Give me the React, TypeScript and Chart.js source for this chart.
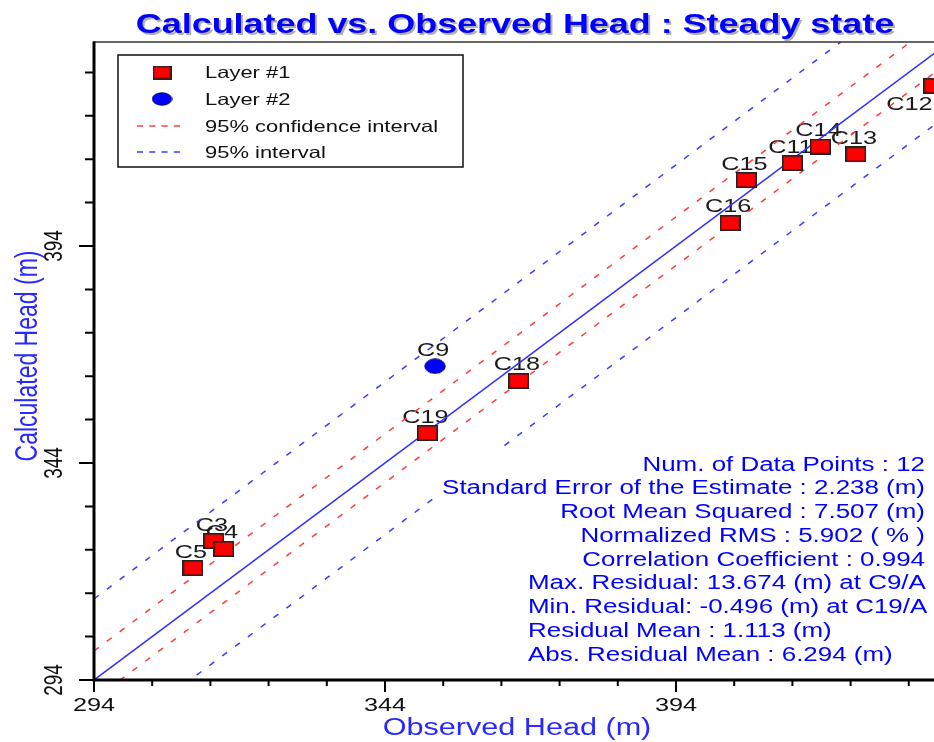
import { useEffect, useRef } from 'react';
import { Chart, registerables } from 'chart.js';

Chart.register(...registerables);

// ---------- data ----------
const layer1Names = ['C3', 'C4', 'C5', 'C19', 'C18', 'C16', 'C15', 'C11', 'C14', 'C13', 'C12'];
const layer1Observed = [314.6, 316.3, 311.0, 351.3, 367.0, 403.3, 406.1, 414.0, 418.8, 424.9, 438.3];
const layer1Calculated = [326.0, 324.2, 319.8, 350.9, 362.9, 399.3, 409.2, 413.1, 416.9, 415.1, 430.9];

const layer2Names = ['C9'];
const layer2Observed = [352.6];
const layer2Calculated = [366.3];

// reference lines (end points, observed / calculated)
const lineX = [294, 444];
const oneToOneY = [294, 444];
const confUpperY = [300.7, 450.7];
const confLowerY = [289.5, 439.5];
const predUpperY = [312.7, 462.7];
const predLowerY = [277.5, 427.5];

const xTicks = [294, 304, 314, 324, 334, 344, 354, 364, 374, 384, 394, 404, 414, 424, 434, 444];
const yTicks = [294, 304, 314, 324, 334, 344, 354, 364, 374, 384, 394, 404, 414, 424, 434];
const majorTicks = [294, 344, 394, 444];

const legendLabels = ['Layer #1', 'Layer #2', '95% confidence interval', '95% interval'];

const statsRight = [
  'Num. of Data Points : 12',
  'Standard Error of the Estimate : 2.238 (m)',
  'Root Mean Squared : 7.507 (m)',
  'Normalized RMS : 5.902 ( % )',
  'Correlation Coefficient : 0.994',
];
const statsLeft = [
  'Max. Residual: 13.674 (m) at C9/A',
  'Min. Residual: -0.496 (m) at C19/A',
  'Residual Mean : 1.113 (m)',
  'Abs. Residual Mean : 6.294 (m)',
];

const titleText = 'Calculated vs. Observed Head : Steady state';
const xTitle = 'Observed Head (m)';
const yTitle = 'Calculated Head (m)';

// ---------- styles ----------
const FAMILY = "'Liberation Sans', Arial, sans-serif";
const SX = 1.33;
const W = 976;
const H = 742;

function txt(
  ctx: CanvasRenderingContext2D,
  s: string,
  x: number,
  y: number,
  font: string,
  color: string,
  align: CanvasTextAlign = 'left',
  rot = 0,
  sx = SX
) {
  ctx.save();
  ctx.translate(x, y);
  ctx.scale(sx, 1);
  if (rot) ctx.rotate(rot);
  ctx.font = font;
  ctx.fillStyle = color;
  ctx.textAlign = align;
  ctx.textBaseline = 'alphabetic';
  ctx.fillText(s, 0, 0);
  ctx.restore();
}

function makeRect(w: number, h: number) {
  const c = document.createElement('canvas');
  c.width = w;
  c.height = h;
  const g = c.getContext('2d')!;
  g.fillStyle = '#ff0000';
  g.fillRect(0, 0, w, h);
  g.strokeStyle = '#222';
  g.lineWidth = 1.6;
  g.strokeRect(0.8, 0.8, w - 1.6, h - 1.6);
  return c;
}

function makeEllipse(w: number, h: number) {
  const c = document.createElement('canvas');
  c.width = w;
  c.height = h;
  const g = c.getContext('2d')!;
  g.beginPath();
  g.ellipse(w / 2, h / 2, w / 2 - 0.8, h / 2 - 0.8, 0, 0, Math.PI * 2);
  g.fillStyle = '#0000ff';
  g.fill();
  g.strokeStyle = '#000060';
  g.lineWidth = 1;
  g.stroke();
  return c;
}

export default function App() {
  const ref = useRef<HTMLCanvasElement>(null);

  useEffect(() => {
    document.documentElement.style.overflow = 'hidden';
    document.body.style.overflow = 'hidden';
    const canvas = ref.current;
    if (!canvas) return;

    const rectMark = makeRect(21, 16);
    const circMark = makeEllipse(22, 16);

    const line = (ys: number[]) => lineX.map((x, i) => ({ x, y: ys[i] }));

    const overlay = {
      id: 'overlay',
      beforeDraw(chart: any) {
        const ctx = chart.ctx as CanvasRenderingContext2D;
        ctx.save();
        ctx.fillStyle = '#ffffff';
        ctx.fillRect(0, 0, chart.width, chart.height);
        ctx.restore();
      },
      beforeDatasetsDraw(chart: any) {
        const ctx = chart.ctx as CanvasRenderingContext2D;
        const lab = (meta: any, names: string[]) => {
          meta.data.forEach((el: any, i: number) => {
            const name = names[i];
            if (name === 'C12') {
              txt(ctx, name, el.x - 24.5, el.y + 24, `19px ${FAMILY}`, '#1a1a1a', 'center');
            } else {
              txt(ctx, name, el.x - 2, el.y - 10.5, `19px ${FAMILY}`, '#1a1a1a', 'center');
            }
          });
        };
        lab(chart.getDatasetMeta(0), layer1Names);
        lab(chart.getDatasetMeta(1), layer2Names);
      },
      afterDatasetsDraw(chart: any) {
        const ctx = chart.ctx as CanvasRenderingContext2D;
        const xs = chart.scales.x;
        const ys = chart.scales.y;
        const area = chart.chartArea;

        // stats box
        ctx.save();
        ctx.fillStyle = '#ffffff';
        ctx.fillRect(433, 446, W - 433, 222);
        ctx.restore();
        const statBase = [470.7, 494.3, 518.3, 542.3, 566, 589.3, 613.3, 637.3, 660.7];
        statsRight.forEach((s, i) =>
          txt(ctx, s, 925, statBase[i], `19.5px ${FAMILY}`, '#0000ff', 'right')
        );
        statsLeft.forEach((s, i) =>
          txt(ctx, s, 528, statBase[i + statsRight.length], `19.5px ${FAMILY}`, '#0000ff', 'left')
        );

        // frame / axes
        ctx.save();
        ctx.strokeStyle = '#333';
        ctx.lineWidth = 1.5;
        ctx.beginPath();
        ctx.moveTo(area.left - 1, area.top);
        ctx.lineTo(W, area.top);
        ctx.stroke();

        ctx.strokeStyle = '#000';
        ctx.lineWidth = 3;
        ctx.beginPath();
        ctx.moveTo(area.left, area.top - 0.5);
        ctx.lineTo(area.left, area.bottom + 1.5);
        ctx.moveTo(area.left - 1.5, area.bottom);
        ctx.lineTo(W, area.bottom);
        ctx.stroke();

        // ticks
        ctx.lineWidth = 2;
        ctx.beginPath();
        xTicks.forEach((v) => {
          const px = xs.getPixelForValue(v);
          const len = majorTicks.includes(v) ? 12 : 6;
          ctx.moveTo(px, area.bottom);
          ctx.lineTo(px, area.bottom + len);
        });
        yTicks.forEach((v) => {
          const py = ys.getPixelForValue(v);
          const len = majorTicks.includes(v) ? 15 : 9;
          ctx.moveTo(area.left, py);
          ctx.lineTo(area.left - len, py);
        });
        ctx.stroke();
        ctx.restore();

        // tick labels
        majorTicks.forEach((v) => {
          const px = xs.getPixelForValue(v);
          if (px < W) txt(ctx, String(v), px, 710.7, `19px ${FAMILY}`, '#111', 'center');
          if (v <= ys.max) {
            const py = ys.getPixelForValue(v);
            txt(ctx, String(v), 61.7, py, `19px ${FAMILY}`, '#111', 'center', -Math.PI / 2);
          }
        });

        // axis titles
        txt(ctx, xTitle, 517, 735, `23px ${FAMILY}`, '#2828ff', 'center');
        txt(ctx, yTitle, 37, 356, `23px ${FAMILY}`, '#2828ff', 'center', -Math.PI / 2);

        // main title
        txt(ctx, titleText, 517, 35, `bold 27px ${FAMILY}`, '#b4b0a8', 'center');
        txt(ctx, titleText, 515, 33, `bold 27px ${FAMILY}`, '#0000ff', 'center');

        // legend
        ctx.save();
        ctx.fillStyle = '#ffffff';
        ctx.fillRect(118, 55, 345, 112);
        ctx.strokeStyle = '#111';
        ctx.lineWidth = 1.5;
        ctx.strokeRect(118, 55, 345, 112);
        ctx.restore();
        const lRect = makeRect(19, 14);
        const lCirc = makeEllipse(21, 14);
        ctx.drawImage(lRect, 162 - 9.5, 72.5 - 7);
        ctx.drawImage(lCirc, 162 - 10.5, 99 - 7);
        ctx.save();
        ctx.lineWidth = 1.5;
        ctx.setLineDash([6, 6.3]);
        ctx.strokeStyle = '#ff3c3c';
        ctx.beginPath();
        ctx.moveTo(137, 126);
        ctx.lineTo(182, 126);
        ctx.stroke();
        ctx.strokeStyle = '#3c3cff';
        ctx.beginPath();
        ctx.moveTo(137, 152);
        ctx.lineTo(182, 152);
        ctx.stroke();
        ctx.restore();
        const lBase = [78.3, 105, 131.7, 158];
        legendLabels.forEach((s, i) => txt(ctx, s, 205, lBase[i], `16.5px ${FAMILY}`, '#111', 'left'));
      },
    };

    const chart = new Chart(canvas, {
      type: 'scatter',
      data: {
        datasets: [
          {
            label: legendLabels[0],
            data: layer1Observed.map((x, i) => ({ x, y: layer1Calculated[i] })),
            pointStyle: rectMark as any,
            pointRadius: 8,
            showLine: false,
            order: 0,
          },
          {
            label: legendLabels[1],
            data: layer2Observed.map((x, i) => ({ x, y: layer2Calculated[i] })),
            pointStyle: circMark as any,
            pointRadius: 8,
            showLine: false,
            order: 0,
          },
          {
            label: '1:1',
            data: line(oneToOneY),
            showLine: true,
            borderColor: '#3030ff',
            borderWidth: 1.5,
            pointRadius: 0,
            order: 2,
          },
          {
            label: legendLabels[2],
            data: line(confUpperY),
            showLine: true,
            borderColor: '#ff3c3c',
            borderWidth: 1.5,
            borderDash: [6, 10],
            pointRadius: 0,
            order: 2,
          },
          {
            label: legendLabels[2] + ' (lower)',
            data: line(confLowerY),
            showLine: true,
            borderColor: '#ff3c3c',
            borderWidth: 1.5,
            borderDash: [6, 10],
            pointRadius: 0,
            order: 2,
          },
          {
            label: legendLabels[3],
            data: line(predUpperY),
            showLine: true,
            borderColor: '#3c3cff',
            borderWidth: 1.5,
            borderDash: [6, 10],
            pointRadius: 0,
            order: 2,
          },
          {
            label: legendLabels[3] + ' (lower)',
            data: line(predLowerY),
            showLine: true,
            borderColor: '#3c3cff',
            borderWidth: 1.5,
            borderDash: [6, 10],
            pointRadius: 0,
            order: 2,
          },
        ],
      },
      options: {
        responsive: false,
        animation: false,
        events: [],
        layout: { padding: { left: 94, top: 42, right: 7.5, bottom: 62 } },
        plugins: {
          legend: { display: false },
          tooltip: { enabled: false },
          title: { display: false },
        },
        scales: {
          x: { type: 'linear', min: 294, max: 444, display: false },
          y: { type: 'linear', min: 294, max: 441, display: false },
        },
      },
      plugins: [overlay],
    });

    return () => chart.destroy();
  }, []);

  return (
    <div style={{ position: 'fixed', left: 0, top: 0, width: W, height: H, background: '#fff', overflow: 'hidden' }}>
      <canvas ref={ref} width={W} height={H} style={{ display: 'block', width: W, height: H }} />
    </div>
  );
}
